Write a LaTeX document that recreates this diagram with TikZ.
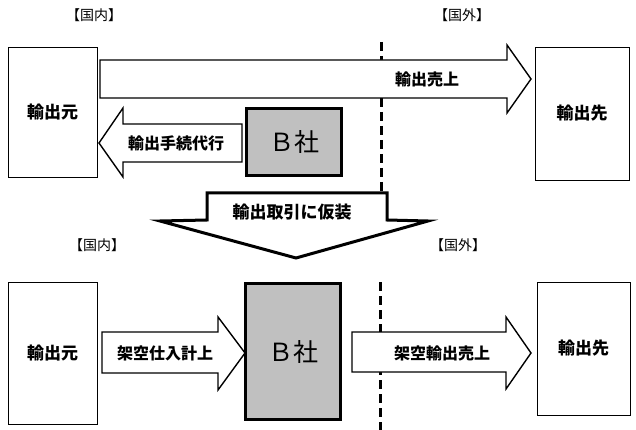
\documentclass[tikz,border=0pt]{standalone}
\usepackage{fontspec}
\setmainfont{Noto Sans CJK JP}
\begin{document}
\begin{tikzpicture}[x=1pt,y=-1pt,
  partybox/.style={draw=black, line width=0.9pt, fill=white, inner sep=0pt,
    font=\fontsize{17}{17}\selectfont\bfseries},
  bbox/.style={draw=black, line width=3pt, fill=bgray, inner sep=0pt,
    font=\fontsize{25}{25}\selectfont},
  blockarrow/.style={draw=black, line width=1.4pt, fill=white, line join=miter},
  bigarrow/.style={draw=black, line width=3pt, fill=white, line join=miter},
  arrowlabel/.style={inner sep=0pt, font=\fontsize{16}{16}\selectfont\bfseries},
  regionlabel/.style={inner sep=0pt, font=\fontsize{14}{14}\selectfont},
  border/.style={draw=black, line width=3pt, dash pattern=on 9pt off 5pt}
]
\definecolor{bgray}{HTML}{C0C0C0}
\useasboundingbox (0,0) rectangle (636,430);

% region labels
\node[regionlabel] (domA) at (94,15) {【国内】};
\node[regionlabel] (forA) at (462,15) {【国外】};
\node[regionlabel] (domB) at (97,245) {【国内】};
\node[regionlabel] (forB) at (458,245) {【国外】};

% border lines
\coordinate (bt1) at (381,42);
\coordinate (bt2) at (381,191);
\coordinate (bb1) at (380,282);
\coordinate (bb2) at (380,430);
\draw[border] (bt1) -- (bt2);
\draw[border] (bb1) -- (bb2);

% ---------- top ----------
\node[partybox, minimum width=89, minimum height=130] (srcA) at (52.5,112) {輸出元};
\node[partybox, minimum width=94, minimum height=133] (dstA) at (582,113.5) {輸出先};
\node[bbox, minimum width=95, minimum height=67] (bA) at (294,142) {Ｂ社};

\draw[blockarrow] (100,60) -- (507,60) -- (507,45) -- (531,79) -- (507,113)
  -- (507,98) -- (100,98) -- cycle;
\node[arrowlabel] (salesA) at (427,79) {輸出売上};

\draw[blockarrow] (242,124) -- (123,124) -- (123,108) -- (99,143) -- (123,177)
  -- (123,162) -- (242,162) -- cycle;
\node[arrowlabel] (procA) at (176,143) {輸出手続代行};

% ---------- middle ----------
\draw[bigarrow] (207,193) -- (387,193) -- (387,220) -- (428,221) -- (296,258)
  -- (160,221) -- (207,220) -- cycle;
\node[arrowlabel, font=\fontsize{17}{17}\selectfont\bfseries] (disguise) at (292,212) {輸出取引に仮装};

% ---------- bottom ----------
\node[partybox, minimum width=89, minimum height=142] (srcB) at (52.5,353) {輸出元};
\node[partybox, minimum width=93, minimum height=133] (dstB) at (583.5,348.5) {輸出先};
\node[bbox, minimum width=95, minimum height=136] (bB) at (293,351.5) {Ｂ社};

\draw[blockarrow] (102,332) -- (218,332) -- (218,317) -- (245,353) -- (218,390)
  -- (218,373) -- (102,373) -- cycle;
\node[arrowlabel] (purB) at (165,353) {架空仕入計上};

\draw[blockarrow] (352,332) -- (506,332) -- (506,317) -- (531,353) -- (506,389)
  -- (506,372) -- (352,372) -- cycle;
\node[arrowlabel] (salesB) at (442,353) {架空輸出売上};
\end{tikzpicture}
\end{document}
